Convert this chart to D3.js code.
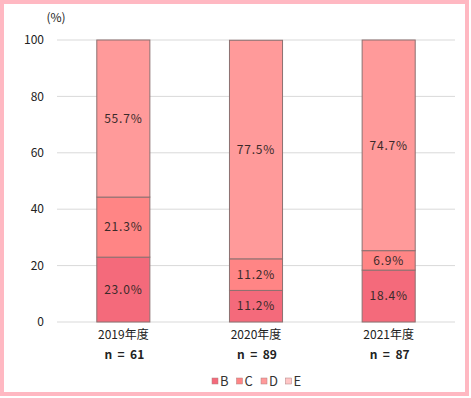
<!DOCTYPE html>
<meta charset="utf-8">
<script src="https://cdn.jsdelivr.net/npm/d3@7"></script>
<style>
  body { margin: 0; background: #fff; }
  svg { display: block; font-family: "Noto Sans CJK JP", "Noto Sans", sans-serif; }
</style>
<body>
<script>

// data
var years = ["2019年度", "2020年度", "2021年度"]
var counts = ["n = 61", "n = 89", "n = 87"]
var keys = ["B", "C", "D", "E"]
var B = [23.0, 11.2, 18.4]
var C = [21.3, 11.2, 6.9]
var D = [55.7, 77.5, 74.7]
var E = [0, 0, 0]
var yTicks = [0, 20, 40, 60, 80, 100]
var colors = ["#f46a7b", "#ff8585", "#ff9a9a", "#ffc6c6"]

var width = 471
var height = 398

var svg = d3.select("body").append("svg")
            .attr("width", width)
            .attr("height", height)

// pink frame
svg.append("rect")
   .attr("x", 2).attr("y", 2)
   .attr("width", width - 6).attr("height", height - 6)
   .attr("fill", "#fff")
   .attr("stroke", "#ffb8c2")
   .attr("stroke-width", 4)

var x = d3.scaleBand().domain(years).range([57, 455]).paddingInner(0.6).paddingOuter(0.3)
var y = d3.scaleLinear().domain([0, 100]).range([322, 40])

// gridlines
svg.append("g").selectAll("line").data(yTicks).join("line")
   .attr("x1", 57).attr("x2", 455)
   .attr("y1", d => y(d)).attr("y2", d => y(d))
   .attr("stroke", "#d9d9d9").attr("stroke-width", 1)

// y axis labels
svg.append("g").selectAll("text").data(yTicks).join("text")
   .attr("x", 44).attr("y", d => y(d))
   .attr("dy", "0.35em")
   .attr("text-anchor", "end")
   .attr("font-size", 12)
   .attr("fill", "#222")
   .text(d => d)

svg.append("text")
   .attr("x", 56).attr("y", 22)
   .attr("text-anchor", "middle")
   .attr("font-size", 12)
   .attr("fill", "#222")
   .text("(%)")

var table = years.map(function(yr, i) {
  return { year: yr, B: B[i], C: C[i], D: D[i], E: E[i] }
})
var stack = d3.stack().keys(keys)(table)

var layers = svg.append("g").selectAll("g").data(stack).join("g")
   .attr("fill", (d, i) => colors[i])

layers.selectAll("rect").data(d => d.filter(p => p[1] - p[0] > 0)).join("rect")
   .attr("x", d => x(d.data.year))
   .attr("width", x.bandwidth())
   .attr("y", d => y(d[1]))
   .attr("height", d => y(d[0]) - y(d[1]))
   .attr("stroke", "#8c7070")
   .attr("stroke-width", 1)

layers.selectAll("text").data(d => d.filter(p => p[1] - p[0] > 0)).join("text")
   .attr("x", d => x(d.data.year) + x.bandwidth() / 2)
   .attr("y", d => y((d[0] + d[1]) / 2))
   .attr("dy", "0.35em")
   .attr("text-anchor", "middle")
   .attr("font-size", 12)
   .attr("letter-spacing", 0.8)
   .attr("fill", "#3a2a2a")
   .text(d => (d[1] - d[0]).toFixed(1) + "%")

// category labels
svg.append("g").selectAll("text").data(years).join("text")
   .attr("x", d => x(d) + x.bandwidth() / 2)
   .attr("y", 339)
   .attr("text-anchor", "middle")
   .attr("font-size", 12)
   .attr("fill", "#222")
   .text(d => d)

svg.append("g").selectAll("text").data(counts).join("text")
   .attr("x", (d, i) => x(years[i]) + x.bandwidth() / 2 + 1)
   .attr("y", 359)
   .attr("text-anchor", "middle")
   .attr("font-size", 12)
   .attr("font-weight", "bold")
   .attr("fill", "#222")
   .style("white-space", "pre")
   .text(d => d.replace(" = ", "  =  "))

// legend
var legend = svg.append("g").selectAll("g").data(keys).join("g")
   .attr("transform", (d, i) => "translate(" + (212 + i * 24.5) + ",381)")

legend.append("rect")
   .attr("x", 0).attr("y", -3)
   .attr("width", 6).attr("height", 6)
   .attr("fill", (d, i) => colors[i])
   .attr("stroke", "#b08080").attr("stroke-width", 0.5)

legend.append("text")
   .attr("x", 8).attr("y", 0)
   .attr("dy", "0.35em")
   .attr("font-size", 13)
   .attr("fill", "#333")
   .text(d => d)

</script>
</body>
